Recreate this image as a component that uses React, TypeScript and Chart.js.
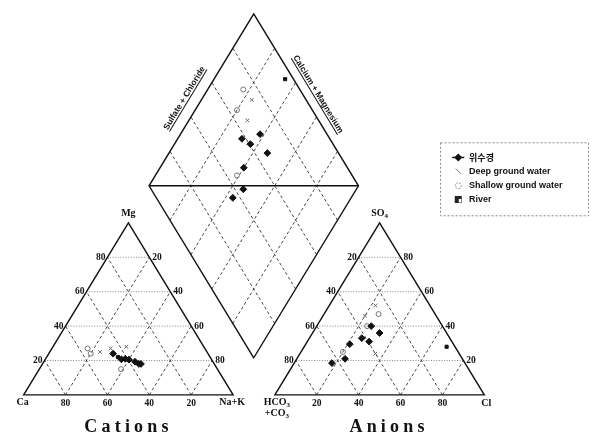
import React, { useEffect, useRef } from 'react';
import { Chart, registerables } from 'chart.js';
Chart.register(...registerables);

// ---------- data (percent of meq) ----------
const seriesNames = ['위수경', 'Deep ground water', 'Shallow ground water', 'River'];

// 위수경
const wsCa = [45.3, 43, 41, 35, 39.5, 36, 37.2];
const wsMg = [24, 20.7, 21, 18, 20.5, 18, 19.3];
const wsNaK = [30.7, 36.3, 38, 47, 40, 46, 43.5];
const wsHCO3 = [42, 39.5, 32, 34, 49.5, 56, 63.5];
const wsSO4 = [33, 31, 36, 40, 29.5, 21, 18.5];
const wsCl = [25, 29.5, 32, 26, 21, 23, 18];

// Deep ground water
const dgCa = [51, 45, 37];
const dgMg = [25, 27, 28];
const dgNaK = [24, 28, 35];
const dgHCO3 = [26, 34, 40];
const dgSO4 = [52, 46, 24];
const dgCl = [22, 20, 36];

// Shallow ground water
const sgCa = [56, 56, 46];
const sgMg = [27, 24, 15];
const sgNaK = [17, 20, 39];
const sgHCO3 = [27, 36, 55];
const sgSO4 = [47, 40, 25];
const sgCl = [26, 24, 20];

// River
const rvCa = [44];
const rvMg = [22];
const rvNaK = [34];
const rvHCO3 = [4];
const rvSO4 = [28];
const rvCl = [68];

// grid levels and tick labels
const gridLevels = [20, 40, 60, 80];
const cationMgTicks = ['20', '40', '60', '80'];
const cationNaKTicks = ['80', '60', '40', '20'];
const cationCaTicks = ['80', '60', '40', '20'];
const anionHCO3Ticks = ['80', '60', '40', '20'];
const anionSO4Ticks = ['20', '40', '60', '80'];
const anionClTicks = ['20', '40', '60', '80'];

// ---------- geometry (in canvas units) ----------
const W = 595, H = 439;
const SIDE = 213, TRI_H = 176, BASE_Y = 399;
const CAT_X0 = 19, AN_X0 = 274.5;
const DIA_CX = 253, DIA_BOTTOM = 361;

const catXY = (mg: number, nak: number) => ({ x: CAT_X0 + ((nak + mg / 2) / 100) * SIDE, y: BASE_Y - (mg / 100) * TRI_H });
const anXY = (so4: number, cl: number) => ({ x: AN_X0 + ((cl + so4 / 2) / 100) * SIDE, y: BASE_Y - (so4 / 100) * TRI_H });
// p = Ca+Mg %, q = SO4+Cl %
const diaXY = (p: number, q: number) => ({ x: DIA_CX + ((q - p) / 100) * (SIDE / 2), y: DIA_BOTTOM - ((p + q) / 100) * TRI_H });

function buildPoints(ca: number[], mg: number[], nak: number[], hco3: number[], so4: number[], cl: number[]) {
  const pts: { x: number; y: number }[] = [];
  ca.forEach((_, i) => pts.push(catXY(mg[i], nak[i])));
  so4.forEach((_, i) => pts.push(anXY(so4[i], cl[i])));
  ca.forEach((_, i) => pts.push(diaXY(ca[i] + mg[i], so4[i] + cl[i])));
  return pts;
}

const SERIF = '"Liberation Serif", "DejaVu Serif", serif';
const SANS = '"Liberation Sans", Arial, sans-serif';

const piperPlugin = {
  id: 'piper',
  beforeDraw(chart: any) {
    const ctx = chart.ctx;
    ctx.save();
    ctx.fillStyle = '#fff';
    ctx.fillRect(0, 0, chart.width, chart.height);
    ctx.restore();
  },
  beforeDatasetsDraw(chart: any) {
    const ctx: CanvasRenderingContext2D = chart.ctx;
    const xs = chart.scales.x, ys = chart.scales.y;
    const px = (p: { x: number; y: number }) => [xs.getPixelForValue(p.x), ys.getPixelForValue(p.y)];
    const line = (a: any, b: any, width: number, color: string, dash: number[]) => {
      const [x1, y1] = px(a), [x2, y2] = px(b);
      ctx.save();
      ctx.strokeStyle = color; ctx.lineWidth = width; ctx.setLineDash(dash);
      ctx.beginPath(); ctx.moveTo(x1, y1); ctx.lineTo(x2, y2); ctx.stroke();
      ctx.restore();
    };
    const poly = (ptsArr: any[], width: number) => {
      ctx.save();
      ctx.strokeStyle = '#111'; ctx.lineWidth = width; ctx.setLineDash([]);
      ctx.beginPath();
      ptsArr.forEach((p, i) => { const [x, y] = px(p); i ? ctx.lineTo(x, y) : ctx.moveTo(x, y); });
      ctx.closePath(); ctx.stroke();
      ctx.restore();
    };
    const DASH = [3, 2.5];
    const DOT = [1, 1.6];
    const dashColor = '#333';
    const dotColor = '#666';

    // ---- triangles grid ----
    const tri = (f: (a: number, b: number) => { x: number; y: number }) => {
      gridLevels.forEach((L) => {
        line(f(L, 0), f(L, 100 - L), 0.8, dotColor, DOT);
        line(f(0, L), f(100 - L, L), 0.9, dashColor, DASH);
        line(f(0, 100 - L), f(100 - L, 0), 0.9, dashColor, DASH);
      });
      poly([f(0, 0), f(0, 100), f(100, 0)], 1.4);
    };
    tri(catXY);
    tri(anXY);

    // ---- diamond grid ----
    gridLevels.forEach((L) => {
      line(diaXY(L, 0), diaXY(L, 100), 0.9, dashColor, DASH);
      line(diaXY(0, L), diaXY(100, L), 0.9, dashColor, DASH);
    });
    line(diaXY(100, 0), diaXY(0, 100), 1.4, '#111', []);
    poly([diaXY(0, 0), diaXY(100, 0), diaXY(100, 100), diaXY(0, 100)], 1.4);

    // ---- tick labels ----
    ctx.save();
    ctx.fillStyle = '#111';
    ctx.font = `bold 9.5px ${SERIF}`;
    ctx.textBaseline = 'middle';
    const text = (t: string, p: any, dx: number, dy: number, align: CanvasTextAlign) => {
      const [x, y] = px(p);
      ctx.textAlign = align;
      ctx.fillText(t, x + dx, y + dy);
    };
    gridLevels.forEach((L, i) => {
      text(cationMgTicks[i], catXY(L, 0), -2, 0, 'right');
      text(cationNaKTicks[i], catXY(L, 100 - L), 3, 0, 'left');
      text(cationCaTicks[i], catXY(0, L), 0, 9, 'center');
      text(anionHCO3Ticks[i], anXY(L, 0), -2, 0, 'right');
      text(anionSO4Ticks[i], anXY(L, 100 - L), 3, 0, 'left');
      text(anionClTicks[i], anXY(0, L), 0, 9, 'center');
    });

    // corner labels
    ctx.font = `bold 10px ${SERIF}`;
    text('Ca', catXY(0, 0), -1, 8, 'center');
    text('Na+K', catXY(0, 100), -1, 8, 'center');
    text('Mg', catXY(100, 0), 0, -9, 'center');
    text('Cl', anXY(0, 100), 2, 9, 'center');

    const withSub = (parts: [string, string][], p: any, dx: number, dy: number) => {
      const [x0, y0] = px(p);
      const big = `bold 10px ${SERIF}`, small = `bold 7px ${SERIF}`;
      let total = 0;
      parts.forEach(([a, b]) => { ctx.font = big; total += ctx.measureText(a).width; ctx.font = small; total += ctx.measureText(b).width; });
      let x = x0 + dx - total / 2;
      ctx.textAlign = 'left';
      parts.forEach(([a, b]) => {
        ctx.font = big; ctx.fillText(a, x, y0 + dy); x += ctx.measureText(a).width;
        ctx.font = small; ctx.fillText(b, x, y0 + dy + 2.5); x += ctx.measureText(b).width;
      });
    };
    withSub([['SO', '4']], anXY(100, 0), 0, -9);
    withSub([['HCO', '3']], anXY(0, 0), 2, 8);
    withSub([['+CO', '3']], anXY(0, 0), 2, 19);

    // titles with letter spacing
    const spaced = (t: string, cx: number, cy: number, spacing: number) => {
      const chars = Array.from(t);
      const ws = chars.map((c) => ctx.measureText(c).width);
      const total = ws.reduce((a, b) => a + b, 0) + spacing * (chars.length - 1);
      let x = cx - total / 2;
      ctx.textAlign = 'left';
      chars.forEach((c, i) => { ctx.fillText(c, x, cy); x += ws[i] + spacing; });
    };
    ctx.font = `bold 18px ${SERIF}`;
    ctx.textBaseline = 'alphabetic';
    spaced('Cations', xs.getPixelForValue(123.5), ys.getPixelForValue(437), 4.2);
    spaced('Anions', xs.getPixelForValue(388.5), ys.getPixelForValue(437), 4.2);

    // diamond axis titles (rotated, underlined)
    const rotated = (t: string, cx: number, cy: number, ang: number) => {
      ctx.save();
      ctx.translate(xs.getPixelForValue(cx), ys.getPixelForValue(cy));
      ctx.rotate(ang);
      ctx.font = `bold 8.5px ${SANS}`;
      ctx.textAlign = 'center';
      ctx.textBaseline = 'alphabetic';
      ctx.fillText(t, 0, 3);
      const w = ctx.measureText(t).width;
      ctx.lineWidth = 1; ctx.strokeStyle = '#111';
      ctx.beginPath(); ctx.moveTo(-w / 2, 5); ctx.lineTo(w / 2, 5); ctx.stroke();
      ctx.restore();
    };
    const ang = Math.atan2(TRI_H, SIDE / 2);
    rotated('Sulfate + Chloride', 182, 95, -ang);
    rotated('Calcium + Magnesium', 319, 91, ang);
    ctx.restore();

    // ---- legend ----
    ctx.save();
    const bx = xs.getPixelForValue(443), by = ys.getPixelForValue(141);
    ctx.strokeStyle = '#888'; ctx.lineWidth = 1; ctx.setLineDash([2, 2]);
    ctx.strokeRect(bx, by, 148, 73);
    ctx.setLineDash([]);
    const rowsY = [156, 170, 185, 199];
    chart.data.datasets.forEach((ds: any, i: number) => {
      const mx = xs.getPixelForValue(461), my = ys.getPixelForValue(rowsY[i]);
      ctx.save();
      if (i === 0) {
        ctx.strokeStyle = '#111'; ctx.lineWidth = 1.5;
        ctx.beginPath(); ctx.moveTo(mx - 6, my); ctx.lineTo(mx + 6, my); ctx.stroke();
        ctx.fillStyle = '#111';
        ctx.beginPath(); ctx.moveTo(mx, my - 4); ctx.lineTo(mx + 4, my); ctx.lineTo(mx, my + 4); ctx.lineTo(mx - 4, my); ctx.closePath(); ctx.fill();
      } else if (i === 1) {
        ctx.strokeStyle = '#777'; ctx.lineWidth = 1;
        ctx.beginPath(); ctx.moveTo(mx - 2.5, my - 2.5); ctx.lineTo(mx + 2.5, my + 2.5); ctx.stroke();
      } else if (i === 2) {
        ctx.strokeStyle = '#777'; ctx.lineWidth = 1; ctx.setLineDash([1.5, 1.5]);
        ctx.beginPath(); ctx.arc(mx, my, 3, 0, Math.PI * 2); ctx.stroke();
      } else {
        ctx.fillStyle = '#222';
        ctx.fillRect(mx - 3.5, my - 3.5, 7, 7);
        ctx.fillStyle = '#fff';
        ctx.fillRect(mx + 0.5, my - 0.5, 2.5, 3.5);
      }
      ctx.restore();
      ctx.fillStyle = '#111';
      ctx.font = i === 0 ? `bold 9px "Noto Sans CJK KR", ${SANS}` : `bold 9px ${SANS}`;
      ctx.textAlign = 'left';
      ctx.textBaseline = 'middle';
      ctx.fillText(ds.label, xs.getPixelForValue(472), my);
    });
    ctx.restore();
  },
};

export default function App() {
  const ref = useRef<HTMLCanvasElement | null>(null);
  useEffect(() => {
    if (!ref.current) return;
    const datasets = [
      {
        label: seriesNames[0],
        data: buildPoints(wsCa, wsMg, wsNaK, wsHCO3, wsSO4, wsCl),
        pointStyle: 'rectRot', pointRadius: 3.4, backgroundColor: '#111', borderColor: '#111', borderWidth: 1,
      },
      {
        label: seriesNames[1],
        data: buildPoints(dgCa, dgMg, dgNaK, dgHCO3, dgSO4, dgCl),
        pointStyle: 'crossRot', pointRadius: 2.6, backgroundColor: '#777', borderColor: '#666', borderWidth: 1,
      },
      {
        label: seriesNames[2],
        data: buildPoints(sgCa, sgMg, sgNaK, sgHCO3, sgSO4, sgCl),
        pointStyle: 'circle', pointRadius: 2.5, backgroundColor: 'rgba(0,0,0,0)', borderColor: '#777', borderWidth: 1,
      },
      {
        label: seriesNames[3],
        data: buildPoints(rvCa, rvMg, rvNaK, rvHCO3, rvSO4, rvCl),
        pointStyle: 'rect', pointRadius: 2.2, backgroundColor: '#111', borderColor: '#111', borderWidth: 1,
      },
    ];
    const chart = new Chart(ref.current, {
      type: 'scatter',
      data: { datasets } as any,
      options: {
        animation: false,
        responsive: false,
        maintainAspectRatio: false,
        layout: { padding: 0 },
        scales: {
          x: { type: 'linear', min: 0, max: W, display: false },
          y: { type: 'linear', min: 0, max: H, reverse: true, display: false },
        },
        plugins: { legend: { display: false }, tooltip: { enabled: false } },
      } as any,
      plugins: [piperPlugin],
    });
    return () => chart.destroy();
  }, []);
  return (
    <div style={{ position: 'absolute', left: 0, top: 0, width: W, height: H, background: '#fff' }}>
      <canvas ref={ref} width={W} height={H} style={{ display: 'block' }} />
    </div>
  );
}
